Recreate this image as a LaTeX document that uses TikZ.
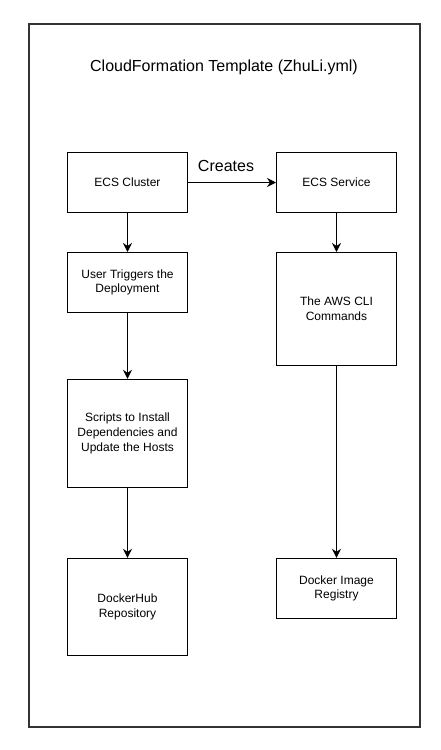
\documentclass[tikz,border=0pt]{standalone}
\usepackage{fontspec}
\setmainfont{Liberation Sans}
\usepackage{tikz}
\usetikzlibrary{arrows.meta}

\tikzset{
	box/.style={draw=black, line width=1pt, minimum width=120pt, inner sep=0pt, align=center, font=\fontsize{12}{14.6}\selectfont},
	flow/.style={line width=1pt, -{Stealth[length=9pt,width=9pt,inset=3pt]}}
}

\begin{document}
\begin{tikzpicture}[x=1pt,y=-1pt]
			\useasboundingbox (0,0) rectangle (441,750);
			\draw[line width=1.2pt, draw=black!80] (29,24) rectangle (420,727);
			\node[font=\fontsize{16}{19}\selectfont] (title) at (224,67) {CloudFormation Template (ZhuLi.yml)};
			\node[box, minimum height=60pt] (cluster) at (127.5,182.5) {ECS Cluster};
			\node[box, minimum height=60pt] (service) at (336.5,182.5) {ECS Service};
			\node[box, minimum height=60pt] (trigger) at (127.5,282.5) {User Triggers the\\Deployment};
			\node[box, minimum height=108pt] (scripts) at (127.5,433.3) {Scripts to Install\\Dependencies and\\Update the Hosts};
			\node[box, minimum height=97pt] (hub) at (127.5,606.8) {DockerHub\\Repository};
			\node[box, minimum height=113pt] (cli) at (336.5,309) {The AWS CLI\\Commands};
			\node[box, minimum height=60pt] (registry) at (336.5,588.3) {Docker Image\\Registry};
			\draw[flow] (cluster) -- node[above=7pt, xshift=-6pt, font=\fontsize{16}{19}\selectfont] {Creates} (service);
			\draw[flow] (cluster) -- (trigger);
			\draw[flow] (trigger) -- (scripts);
			\draw[flow] (scripts) -- (hub);
			\draw[flow] (service) -- (cli);
			\draw[flow] (cli) -- (registry);
		\end{tikzpicture}
\end{document}
